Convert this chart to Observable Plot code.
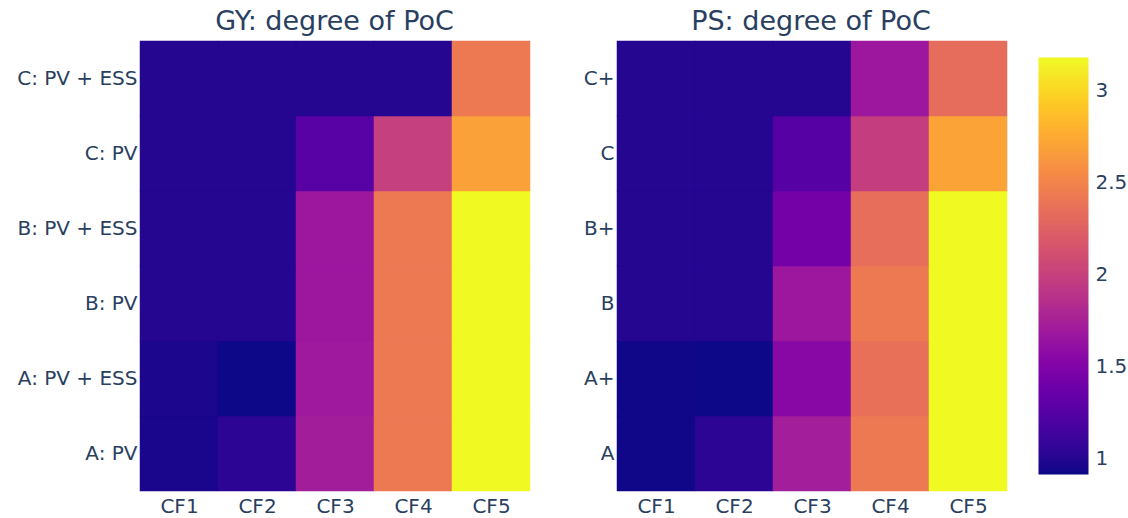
<!DOCTYPE html>
<html>
<head>
<meta charset="utf-8">
<script src="https://cdn.jsdelivr.net/npm/d3@7"></script>
<script src="https://cdn.jsdelivr.net/npm/@observablehq/plot@0.6"></script>
<style>
  html, body { margin: 0; padding: 0; background: #fff; }
  #wrap { position: relative; width: 1128px; height: 518px; overflow: hidden; font-family: "DejaVu Sans", sans-serif; }
  #wrap svg { position: absolute; top: 0; }
  .title { position: absolute; font-family: "DejaVu Sans", sans-serif; font-size: 27px; color: #2a3f5f; white-space: nowrap; transform: translateX(-50%); line-height: 1; }
</style>
</head>
<body>
<div id="wrap"></div>
<script>
// ---- data ----
const columns = ["CF1", "CF2", "CF3", "CF4", "CF5"];
const gyRows = ["A: PV", "A: PV + ESS", "B: PV", "B: PV + ESS", "C: PV", "C: PV + ESS"]; // bottom -> top
const psRows = ["A", "A+", "B", "B+", "C", "C+"];
const gyValues = [
  [0.95, 1.03, 1.71, 2.42, 3.18],
  [0.96, 0.913, 1.69, 2.42, 3.18],
  [1.00, 1.00, 1.67, 2.42, 3.18],
  [1.00, 1.00, 1.67, 2.42, 3.18],
  [1.00, 1.00, 1.26, 1.99, 2.69],
  [1.00, 1.00, 1.00, 1.00, 2.42]
];
const psValues = [
  [0.93, 1.03, 1.72, 2.42, 3.18],
  [0.93, 0.913, 1.55, 2.36, 3.18],
  [1.00, 1.00, 1.67, 2.42, 3.18],
  [1.00, 1.00, 1.42, 2.34, 3.18],
  [1.00, 1.00, 1.25, 1.98, 2.71],
  [1.00, 1.00, 1.00, 1.67, 2.33]
];
const titles = ["GY: degree of PoC", "PS: degree of PoC"];
const colorTicks = [1, 1.5, 2, 2.5, 3];

const zmin = d3.min([...gyValues.flat(), ...psValues.flat()]);
const zmax = d3.max([...gyValues.flat(), ...psValues.flat()]);
const textColor = "#2a3f5f";
const colorOpts = {type: "linear", scheme: "plasma", domain: [zmin, zmax]};

function toTable(rows, values) {
  const out = [];
  rows.forEach((r, i) => columns.forEach((c, j) => out.push({row: r, col: c, value: values[i][j]})));
  return out;
}

function heatmap(rows, values, left) {
  const svg = Plot.plot({
    width: 560, height: 518,
    marginLeft: 139, marginRight: 560 - 139 - 391, marginTop: 40, marginBottom: 27,
    style: {fontFamily: "DejaVu Sans, sans-serif", fontSize: "20px", color: textColor, background: "transparent", overflow: "visible"},
    x: {domain: columns, padding: 0, label: null, tickSize: 0, tickPadding: 7},
    y: {domain: rows.slice().reverse(), padding: 0, label: null, tickSize: 0, tickPadding: 2},
    color: colorOpts,
    marks: [
      Plot.cell(toTable(rows, values), {x: "col", y: "row", fill: "value", stroke: "value", strokeWidth: 0.5, inset: 0})
    ]
  });
  svg.style.left = left + "px";
  return svg;
}

const wrap = document.getElementById("wrap");
wrap.appendChild(heatmap(gyRows, gyValues, 0));
wrap.appendChild(heatmap(psRows, psValues, 477));

// colorbar
const cb = Plot.plot({
  width: 128, height: 518,
  marginLeft: 38, marginRight: 128 - 38 - 50, marginTop: 57, marginBottom: 518 - 474,
  style: {fontFamily: "DejaVu Sans, sans-serif", fontSize: "20px", color: textColor, background: "transparent", overflow: "visible"},
  x: {domain: [0, 1], axis: null},
  y: {domain: [zmin, zmax], axis: "right", ticks: colorTicks, tickSize: 0, tickPadding: 7, tickFormat: d => String(d), label: null},
  color: colorOpts,
  marks: [
    Plot.raster({x1: 0, x2: 1, y1: zmin, y2: zmax, width: 1, height: 400, fill: (x, y) => y, imageRendering: "auto"})
  ]
});
cb.style.left = "1000px";
wrap.appendChild(cb);

// titles
[[titles[0], 139 + 391 / 2], [titles[1], 616 + 390 / 2]].forEach(([t, cx]) => {
  const d = document.createElement("div");
  d.className = "title";
  d.textContent = t;
  d.style.left = cx + "px";
  d.style.top = "7px";
  wrap.appendChild(d);
});
</script>
</body>
</html>
